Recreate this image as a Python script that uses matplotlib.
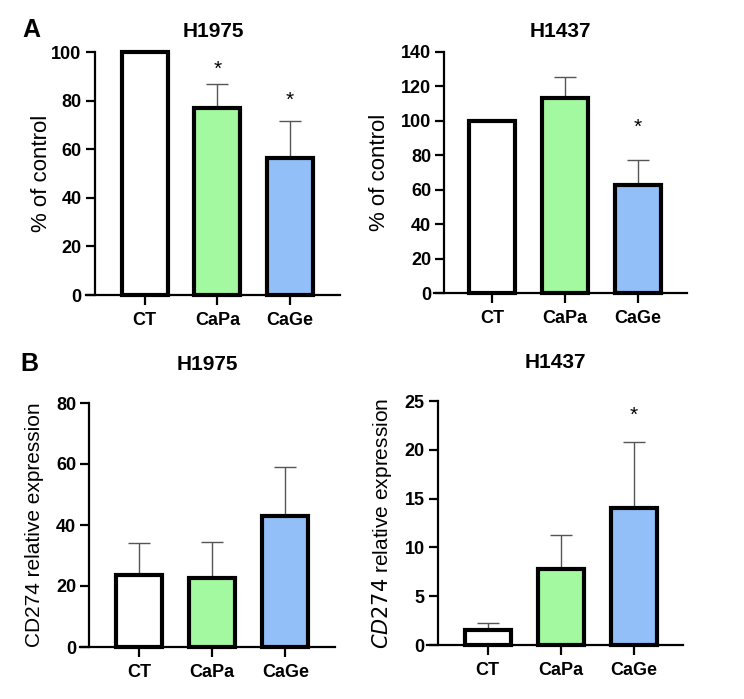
import matplotlib.pyplot as plt

plt.rcParams['font.family'] = ['Liberation Sans', 'DejaVu Sans']

groups = ["CT", "CaPa", "CaGe"]
colors = ["#ffffff", "#a3f99f", "#92bff7"]

# panel A: % of control
a_h1975_mean = [100, 77, 56.5]
a_h1975_err = [0, 10, 15]
a_h1975_star = [None, 93, 80]

a_h1437_mean = [100, 113, 63]
a_h1437_err = [0, 12.5, 14]
a_h1437_star = [None, None, 96]

# panel B: CD274 relative expression
b_h1975_mean = [23.5, 22.5, 43]
b_h1975_err = [10.5, 12, 16]
b_h1975_star = [None, None, None]

b_h1437_mean = [1.5, 7.8, 14]
b_h1437_err = [0.8, 3.5, 6.8]
b_h1437_star = [None, None, 23.5]

W, H = 744, 699
fig = plt.figure(figsize=(W / 100, H / 100), dpi=100)


def panel(box, spine_x, xlim, mean, err, stars, ymax, ystep, title, ylabel,
          label_x, title_pad, label_size=15):
    x0, x1, ytop, ybot = box
    ax = fig.add_axes([x0 / W, 1 - ybot / H, (x1 - x0) / W, (ybot - ytop) / H])
    # spine position first: moving it resets the tick labels
    ax.spines["top"].set_visible(False)
    ax.spines["right"].set_visible(False)
    ax.spines["left"].set_position(("data", spine_x))
    ax.spines["left"].set_linewidth(1.6)
    ax.spines["bottom"].set_linewidth(1.6)

    pos = list(range(len(groups)))
    ax.errorbar(pos, mean, yerr=[[0] * 3, err], fmt="none", ecolor="#555555",
                elinewidth=1.0, capsize=8, capthick=1.0, zorder=1, clip_on=False)
    ax.bar(pos, mean, width=0.63, color=colors, edgecolor="black", linewidth=3,
           zorder=2, clip_on=False)
    for p, s in zip(pos, stars):
        if s is not None:
            ax.text(p, s, "*", ha="center", va="center", fontsize=15)
    ax.set_xlim(*xlim)
    ax.set_ylim(0, ymax)
    yt = list(range(0, ymax + 1, ystep))
    ax.set_yticks(yt, labels=[str(t) for t in yt], fontsize=13, fontweight="bold")
    ax.set_xticks(pos, labels=groups, fontsize=13, fontweight="bold")
    ax.tick_params(axis="y", length=6.5, width=1.6, pad=3)
    ax.tick_params(axis="x", length=7, width=1.6, pad=5)
    ax.set_title(title, fontsize=15, fontweight="bold", pad=title_pad)
    ax.set_ylabel(ylabel, fontsize=label_size)
    ax.yaxis.set_label_coords(label_x, 0.5)
    return ax


panel((86, 340, 52, 295), -0.69, (-0.81, 2.69), a_h1975_mean, a_h1975_err, a_h1975_star,
      100, 20, "H1975", "% of control", -0.134, 11, 16)
panel((434, 687, 52, 293), -0.66, (-0.80, 2.67), a_h1437_mean, a_h1437_err, a_h1437_star,
      140, 20, "H1437", "% of control", -0.174, 11, 16)
panel((80, 335, 403, 647), -0.68, (-0.81, 2.68), b_h1975_mean, b_h1975_err, b_h1975_star,
      80, 20, "H1975", "CD274 relative expression", -0.141, 24)
panel((427, 683, 401, 645), -0.68, (-0.83, 2.67), b_h1437_mean, b_h1437_err, b_h1437_star,
      25, 5, "H1437", r"$\mathit{CD274}$ relative expression", -0.129, 24)

fig.text(22 / W, 1 - 30 / H, "A", fontsize=18, fontweight="bold", va="center")
fig.text(20 / W, 1 - 364 / H, "B", fontsize=18, fontweight="bold", va="center")

fig.savefig("out.png", dpi=100, facecolor="white")
